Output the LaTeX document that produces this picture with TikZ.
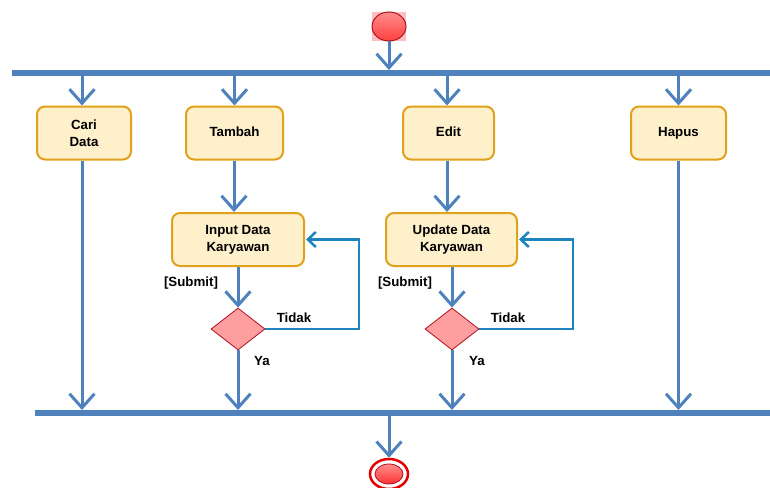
\documentclass[tikz,border=0pt]{standalone}
\usepackage{fontspec}
\setmainfont{Liberation Sans}
\usetikzlibrary{arrows.meta,shapes.geometric}
\definecolor{barblue}{HTML}{4F81BD}
\definecolor{loopblue}{HTML}{1C84BF}
\definecolor{boxfill}{HTML}{FEF0CB}
\definecolor{boxdraw}{HTML}{E0A21C}
\definecolor{dfill}{HTML}{FF9E9E}
\definecolor{ddraw}{HTML}{B01020}
\begin{document}
\begin{tikzpicture}[x=1pt,y=-1pt,
  font=\fontsize{13.3}{17}\selectfont\bfseries,
  act/.style={draw=boxdraw,line width=2pt,fill=boxfill,rounded corners=8pt,minimum height=53pt,align=center,inner sep=2pt},
  single/.style={text height=9.5pt,text depth=2.5pt},
  dec/.style={diamond,draw=ddraw,line width=0.8pt,fill=dfill,minimum width=54pt,minimum height=42pt,inner sep=0pt,aspect=1.3},
  bar/.style={fill=barblue,minimum height=6pt,inner sep=0pt,outer sep=0pt},
  flow/.style={draw=barblue,line width=3pt,-{Straight Barb[length=14pt,width=25pt]}},
  loopflow/.style={draw=loopblue,line width=2.5pt,-{Straight Barb[length=8pt,width=15pt]}},
  lbl/.style={inner sep=0pt}]
\useasboundingbox (0,0) rectangle (770,487);
% start
\fill[red!25] (372,12) rectangle (406,41);
\node (start) [ellipse,draw=ddraw,line width=1pt,top color=red!45,bottom color=red!75,minimum width=34pt,minimum height=29pt,inner sep=0pt] at (389,26.5) {};
% bars
\node (bar1) [bar,minimum width=758pt] at (391,73) {};
\node (bar2) [bar,minimum width=735pt] at (402.5,413) {};
% activities
\node (cari) [act,minimum width=94pt] at (84,133) {Cari\\Data};
\node (tambah) [act,single,minimum width=97pt] at (234.5,133) {Tambah};
\node (edit) [act,single,minimum width=91pt] at (448.5,133) {Edit};
\node (hapus) [act,single,minimum width=95pt] at (678.5,133) {Hapus};
\node (in1) [act,minimum width=132pt] at (238,239.5) {Input Data\\Karyawan};
\node (up1) [act,minimum width=131pt] at (451.5,239.5) {Update Data\\Karyawan};
\node (d1) [dec] at (238,329) {};
\node (d2) [dec] at (452,329) {};
% end
\node (endo) [ellipse,draw=red!90!black,line width=2.5pt,fill=white,minimum width=38pt,minimum height=30pt,inner sep=0pt] at (389,474) {};
\node (endi) [ellipse,draw=ddraw,line width=0.8pt,top color=red!45,bottom color=red!80,minimum width=28pt,minimum height=20pt,inner sep=0pt] at (389,474) {};
% flows
\draw[flow] (start.south) -- (start.south |- bar1.north);
\draw[flow] (bar1.south -| 82,0) coordinate (c1) -- (c1 |- cari.north);
\draw[flow] (bar1.south -| tambah) -- (tambah.north);
\draw[flow] (bar1.south -| 447,0) coordinate (c2) -- (c2 |- edit.north);
\draw[flow] (bar1.south -| hapus) -- (hapus.north);
\draw[flow] (cari.south -| c1) -- (c1 |- bar2.north);
\draw[flow] (hapus.south) -- (hapus.south |- bar2.north);
\draw[flow] (tambah.south -| 234,0) coordinate (c3) -- (c3 |- in1.north);
\draw[flow] (edit.south -| c2) -- (c2 |- up1.north);
\draw[flow] (in1.south) -- (d1.north);
\draw[flow] (up1.south -| d2) -- (d2.north);
\draw[flow] (d1.south) -- (d1.south |- bar2.north);
\draw[flow] (d2.south) -- (d2.south |- bar2.north);
\draw[flow] (bar2.south -| endo) -- (endo.north);
\draw[loopflow] (d1.east) -| ([xshift=54pt]in1.east |- d1.east) coordinate (l1) -- (l1 |- in1.east) -- ([xshift=1pt]in1.east);
\draw[loopflow] (d2.east) -| ([xshift=55pt]up1.east |- d2.east) coordinate (l2) -- (l2 |- up1.east) -- ([xshift=1pt]up1.east);
% labels
\node (s1) [lbl] at (191,283) {[Submit]};
\node (s2) [lbl] at (405,283) {[Submit]};
\node (t1) [lbl] at (294,318) {Tidak};
\node (t2) [lbl] at (508,318) {Tidak};
\node (y1) [lbl] at (262,361) {Ya};
\node (y2) [lbl] at (477,361) {Ya};
\end{tikzpicture}
\end{document}
